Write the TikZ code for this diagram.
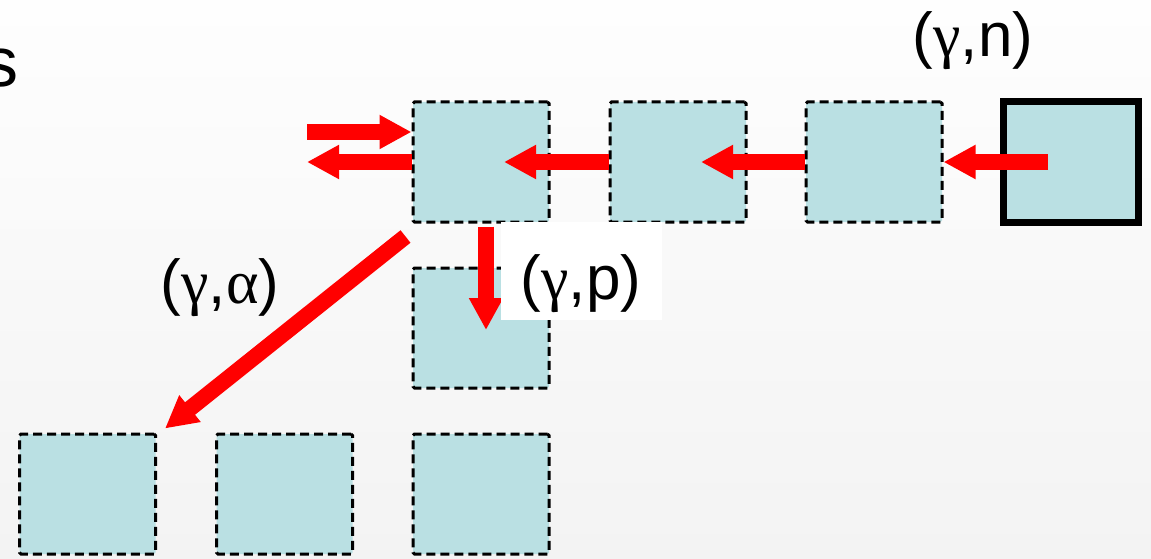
\documentclass[tikz,border=0pt]{standalone}
\usepackage{fontspec}
\setmainfont{Liberation Sans}
\newfontfamily\grk{Liberation Serif}
\usetikzlibrary{arrows.meta}
\definecolor{boxfill}{RGB}{186,224,227}
\definecolor{bgtop}{RGB}{254,254,254}
\definecolor{bgbot}{RGB}{243,243,243}
\tikzset{
  cell/.style={draw=black, fill=boxfill, line width=3pt, dash pattern=on 9pt off 5pt,
    minimum width=136pt, minimum height=120pt, inner sep=0pt, rounded corners=1.5pt},
  target/.style={draw=black, fill=boxfill, line width=7pt,
    minimum width=135pt, minimum height=121pt, inner sep=0pt},
  flow/.style={draw=red, line width=16pt, -{Triangle[length=32pt,width=32pt]}},
  lbl/.style={font=\fontsize{62}{62}\selectfont, inner sep=0pt},
}
\begin{document}
\begin{tikzpicture}[x=1pt,y=-1pt]
\useasboundingbox (0,0) rectangle (1151,559);
\shade[top color=bgtop, bottom color=bgbot] (0,0) rectangle (1151,559);

\node[anchor=base east, inner sep=0pt, font=\fontsize{70}{70}\selectfont] (s) at (19,87) {s};

\node[cell] (A) at (481,162) {};
\node[cell] (B) at (678,162) {};
\node[cell] (C) at (874,162) {};
\node[target] (D) at (1071,162) {};
\node[cell] (E) at (481,328) {};
\node[cell] (F) at (87.5,494) {};
\node[cell] (G) at (284.5,494) {};
\node[cell] (H) at (481,494) {};

\coordinate (outL) at (307,162);
\coordinate (inL) at (307,132);

\draw[flow] ([xshift=-23pt]D.center) -- (C.east);
\draw[flow] (C.west) -- ([xshift=23pt]B.center);
\draw[flow] (B.west) -- ([xshift=23pt]A.center);
\draw[flow] (A.west) -- (outL);
\draw[flow] (inL) -- ([yshift=30pt]A.west);
\draw[flow] ([xshift=5pt,yshift=-3pt]A.south) -- ([xshift=5pt,yshift=-2pt]E.center);
\draw[flow] ([xshift=-6pt,yshift=-13pt]A.south west) -- ([xshift=8pt,yshift=4pt]F.north east);

\node[lbl, anchor=base] (ln) at (973,57) {({\grk γ},n)};
\node[lbl, anchor=base] (la) at (220,303) {({\grk γ},{\grk α})};
\node[lbl, fill=white, minimum width=161pt, minimum height=98pt,
      text height=56pt, text depth=0pt] (lp) at (581,271) {({\grk γ},p)};
\end{tikzpicture}
\end{document}
